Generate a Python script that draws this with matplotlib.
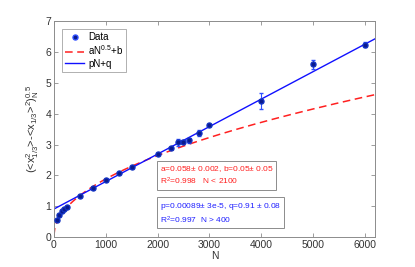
import numpy as np
import matplotlib
matplotlib.use("Agg")
import matplotlib.pyplot as plt
from matplotlib.lines import Line2D

plt.rcParams["font.family"] = ["Liberation Sans", "DejaVu Sans"]
plt.rcParams["mathtext.fontset"] = "custom"
plt.rcParams["mathtext.rm"] = "Liberation Sans"
plt.rcParams["mathtext.it"] = "Liberation Sans"

# measured data
N = [50, 100, 150, 200, 250, 500, 750, 1000, 1250, 1500, 2000, 2250,
     2400, 2500, 2600, 2800, 3000, 4000, 5000, 6000]
sig = [0.55, 0.72, 0.86, 0.92, 0.97, 1.33, 1.60, 1.86, 2.08, 2.28, 2.68, 2.88,
       3.07, 3.09, 3.14, 3.37, 3.63, 4.41, 5.60, 6.23]
err = [0.03, 0.03, 0.03, 0.03, 0.03, 0.03, 0.03, 0.03, 0.03, 0.03, 0.03, 0.04,
       0.12, 0.05, 0.08, 0.10, 0.04, 0.25, 0.15, 0.08]

# fit parameters (from the annotation boxes)
a_fit, b_fit = 0.058, 0.05
p_fit, q_fit = 0.00089, 0.91

GRAY = "#8c8c8c"

fig = plt.figure(figsize=(4.15, 2.67), dpi=100)
ax = fig.add_axes([0.130, 0.112, 0.774, 0.809])

Nf = np.linspace(0, 6200, 400)
ax.errorbar(N, sig, yerr=err, fmt="o", color="#1f3fff", ecolor="#3050ff",
            markerfacecolor="#0a1a8c", markeredgecolor="#1030c0",
            markersize=3.6, elinewidth=0.8, capsize=1.5, zorder=3)
ax.plot(Nf, a_fit * np.sqrt(Nf) + b_fit, color="#ff2020", lw=1.1,
        ls=(0, (5, 3)), zorder=2)
ax.plot(Nf, p_fit * Nf + q_fit, color="#1010ff", lw=1.0, zorder=2)

ax.set_xlim(0, 6200)
ax.set_ylim(0, 7)
ax.set_xticks([0, 1000, 2000, 3000, 4000, 5000, 6000])
ax.set_yticks(range(0, 8))
ax.tick_params(direction="in", length=3, width=0.6, colors=GRAY,
               labelcolor="#333333", labelsize=7.5, top=True, right=True, pad=2)
for s in ax.spines.values():
    s.set_color(GRAY)
    s.set_linewidth(0.7)

ax.set_xlabel("N", fontsize=7.5, color="#333333", labelpad=1)
ax.set_ylabel(r"(<x$^2_{1/3}$>-<x$_{1/3}$>$^2$)$^{0.5}_N$", fontsize=8,
              color="#333333", labelpad=3)

handles = [
    Line2D([], [], marker="o", color="#3050ff", markerfacecolor="#0a1a8c",
           markersize=3.6, ls="none"),
    Line2D([], [], color="#ff2020", lw=1.1, ls=(0, (5, 3))),
    Line2D([], [], color="#1010ff", lw=1.0),
]
leg = ax.legend(handles, ["Data", r"aN$^{0.5}$+b", "pN+q"], loc="upper left",
                fontsize=7, frameon=True, fancybox=False, edgecolor=GRAY,
                handlelength=2.0, borderpad=0.3, labelspacing=0.15,
                handletextpad=0.4, bbox_to_anchor=(0.01, 0.985))
leg.get_frame().set_linewidth(0.6)

ax.text(0.33, 0.285,
        "a=0.058$\\pm$ 0.002, b=0.05$\\pm$ 0.05\nR$^2$=0.998   N < 2100",
        transform=ax.transAxes, fontsize=6, color="#ff2020", va="center",
        linespacing=1.25,
        bbox=dict(boxstyle="square,pad=0.3", fc="white", ec=GRAY, lw=0.7))
ax.text(0.33, 0.11,
        "p=0.00089$\\pm$ 3e-5, q=0.91 $\\pm$ 0.08\nR$^2$=0.997  N > 400",
        transform=ax.transAxes, fontsize=6, color="#2020ff", va="center",
        linespacing=1.25,
        bbox=dict(boxstyle="square,pad=0.3", fc="white", ec=GRAY, lw=0.7))

fig.savefig("out.png", dpi=100)
